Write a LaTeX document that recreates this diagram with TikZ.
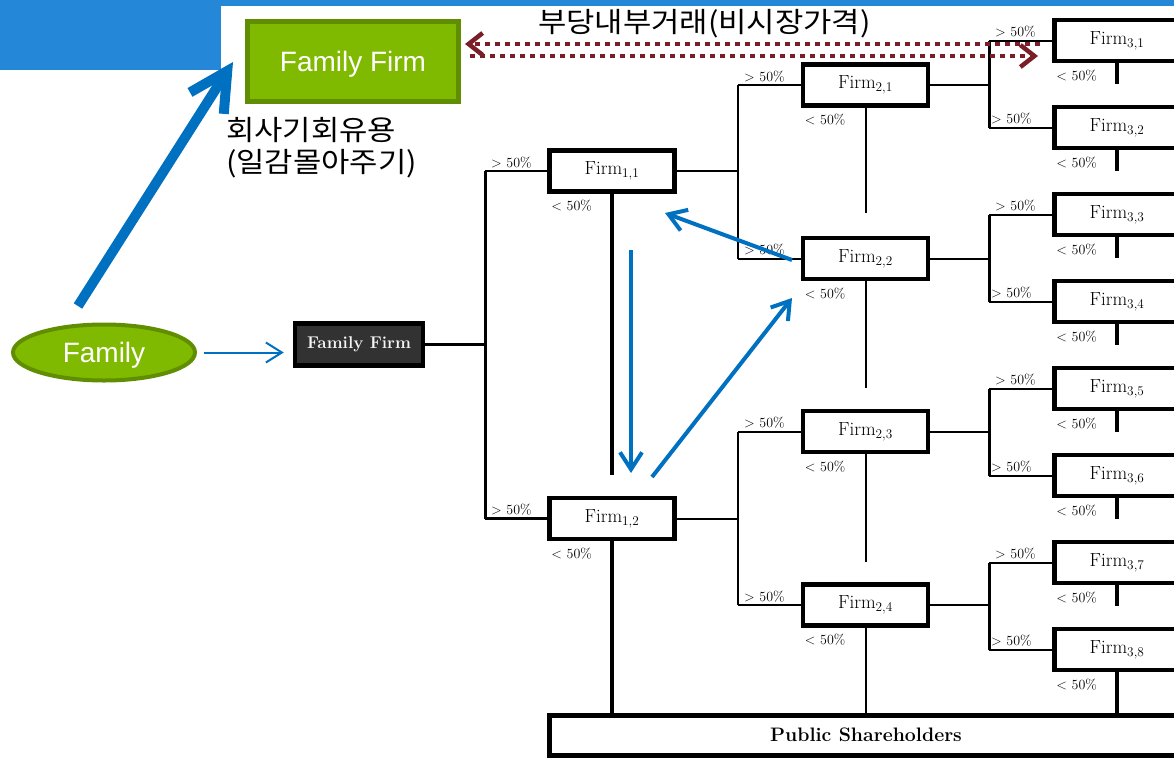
\documentclass[tikz,border=0pt]{standalone}
\usepackage{fontspec}
\newfontfamily\arialf{Liberation Sans}
\newfontfamily\kr[FakeStretch=1.1]{Noto Sans CJK KR}
\usetikzlibrary{arrows.meta,shapes.geometric,calc}
\definecolor{bandblue}{RGB}{36,135,216}
\definecolor{arrowblue}{RGB}{0,112,192}
\definecolor{ggreen}{RGB}{127,186,0}
\definecolor{ggreendark}{RGB}{96,142,0}
\definecolor{dred}{RGB}{122,30,40}
\definecolor{boxgray}{RGB}{50,50,50}
\begin{document}
\begin{tikzpicture}[x=1pt,y=-1pt,
  firm/.style={draw, line width=4.5pt, fill=white, minimum width=125pt, minimum height=41pt, inner sep=0pt, font=\fontsize{19}{22}\selectfont},
  pct/.style={inner sep=0pt, font=\fontsize{14}{14}\selectfont},
  greenbox/.style={draw=ggreendark, fill=ggreen, line width=5pt, minimum width=211pt, minimum height=80pt, inner sep=0pt, text depth=0pt, text=white, font=\arialf\fontsize{28}{32}\selectfont},
  famell/.style={ellipse, draw=ggreendark, fill=ggreen, line width=4pt, minimum width=182pt, minimum height=56pt, inner sep=0pt, text depth=0pt, text=white, font=\arialf\fontsize{28}{32}\selectfont},
  blackbox/.style={draw=black, fill=boxgray, line width=4.5pt, minimum width=128pt, minimum height=42pt, inner sep=0pt, text=gray!8, font=\bfseries\fontsize{17}{19}\selectfont},
  psbox/.style={draw, line width=5pt, fill=white, minimum width=634pt, minimum height=40pt, inner sep=0pt, font=\bfseries\fontsize{19.5}{22}\selectfont},
  krtext/.style={inner sep=0pt, font=\kr\fontsize{28}{32}\selectfont},
  thickarrow/.style={draw=arrowblue, line width=10pt, -{Straight Barb[length=38pt,width=40pt]}},
  medarrow/.style={draw=arrowblue, line width=4pt, -{Straight Barb[length=17pt,width=22pt]}},
  thinarrow/.style={draw=arrowblue, line width=2pt, -{Straight Barb[length=16pt,width=20pt]}},
  dotarrow/.style={draw=dred, line width=4.5pt, dash pattern=on 5pt off 5pt, -{Straight Barb[length=14pt,width=22pt]}},
  lv1/.style={line width=2.5pt},
  lv2/.style={line width=2pt},
]
\useasboundingbox (0,0) rectangle (1174,758);
\clip (0,0) rectangle (1174,758);

% background band
\fill[bandblue] (0,0) rectangle (1174,6);
\fill[bandblue] (0,0) rectangle (221,70);

% coordinates for junctions
\coordinate (j0) at (485,344.5);
\coordinate (j1) at (738,0);
\coordinate (j2) at (989,0);

% nodes
\node[greenbox] (gf) at (353,61.5) {Family Firm};
\node[famell] (fam) at (104,352.5) {Family};
\node[blackbox] (bf) at (359,344.5) {Family Firm};

\node[firm] (f11) at (612,171) {Firm\textsubscript{1,1}};
\node[firm] (f12) at (612,518.5) {Firm\textsubscript{1,2}};

\node[firm] (f21) at (865.5,85) {Firm\textsubscript{2,1}};
\node[firm] (f22) at (865.5,258.5) {Firm\textsubscript{2,2}};
\node[firm] (f23) at (865.5,431.5) {Firm\textsubscript{2,3}};
\node[firm] (f24) at (865.5,605) {Firm\textsubscript{2,4}};

\foreach \k in {1,...,8}{
  \node[firm] (f3\k) at (1117,{40.5+87*(\k-1)}) {Firm\textsubscript{3,\k}};
}

\node[psbox] (ps) at (866,735) {Public Shareholders};

% tree connectors: root
\draw[lv1] (bf.east) -- (j0);
\draw[line width=3pt] (f11.west -| j0) -- (f12.west -| j0);
\draw[lv1] (f11.west) -- (f11.west -| j0);
\draw[lv1] (f12.west) -- (f12.west -| j0);

% level 1 -> level 2
\foreach \p/\a/\b in {11/21/22, 12/23/24}{
  \draw[lv2] (f\p.east) -- (f\p.east -| j1);
  \draw[lv2] (f\a.west -| j1) -- (f\b.west -| j1);
  \draw[lv2] (f\a.west) -- (f\a.west -| j1);
  \draw[lv2] (f\b.west) -- (f\b.west -| j1);
}

% level 2 -> level 3
\foreach \p/\a/\b in {21/31/32, 22/33/34, 23/35/36, 24/37/38}{
  \draw[lv2] (f\p.east) -- (f\p.east -| j2);
  \draw[line width=3pt] (f\a.west -| j2) -- (f\b.west -| j2);
  \draw[lv2] (f\a.west) -- (f\a.west -| j2);
  \draw[lv2] (f\b.west) -- (f\b.west -| j2);
}

% downward (<50%) lines
\coordinate (e11) at (612,475);
\draw[line width=3.5pt] (f11.south) -- (e11);
\draw[line width=3.5pt] (f12.south) -- (f12.south |- ps.north);
\coordinate (e21) at (865.5,213);
\coordinate (e22) at (865.5,388);
\coordinate (e23) at (865.5,562);
\draw[lv2] (f21.south) -- (e21);
\draw[lv2] (f22.south) -- (e22);
\draw[lv2] (f23.south) -- (e23);
\draw[lv2] (f24.south) -- (f24.south |- ps.north);
\foreach \k in {1,...,7}{
  \coordinate (s\k) at ($(f3\k.south)+(0,21)$);
  \draw[line width=4pt] (f3\k.south) -- (s\k);
}
\draw[line width=4pt] (f38.south) -- (f38.south |- ps.north);

% redraw ps border on top
\node[psbox] at (ps) {Public Shareholders};

% > 50% labels
\foreach \n/\j in {11/j0, 12/j0, 21/j1, 22/j1, 23/j1, 24/j1}{
  \node[pct, anchor=base west] at ($(f\n.west -| \j)+(6,-4)$) {> 50\%};
}
\foreach \n in {31,33,35,37}{
  \node[pct, anchor=base west] at ($(f\n.west -| j2)+(6,-4)$) {> 50\%};
}
\foreach \n in {32,34,36,38}{
  \node[pct, anchor=base west] at ($(f\n.west -| j2)+(2,-4)$) {> 50\%};
}
% < 50% labels
\foreach \n in {11,12,21,22,23,24,31,32,33,34,35,36,37,38}{
  \node[pct, anchor=base west] at ($(f\n.south west)+(4,17)$) {< 50\%};
}

% Korean labels
\node[krtext, anchor=north west, align=left] (lblA) at (226,117) {회사기회유용\\(일감몰아주기)};
\node[krtext, anchor=west] (lblB) at (538,24) {부당내부거래(비시장가격)};

% dotted arrows
\coordinate (d1) at (1040,44);
\coordinate (d2) at (465,44);
\coordinate (d3) at (470,56);
\coordinate (d4) at (1038,56);
\draw[dotarrow] (d1) -- (d2);
\draw[dotarrow] (d3) -- (d4);

% blue arrows
\coordinate (t0) at (78,306);
\coordinate (t1) at (233,62);
\draw[thickarrow] (t0) -- (t1);
\draw[thinarrow, shorten <=7pt, shorten >=9pt] (fam.east) -- (fam.east -| bf.west);

\coordinate (a1s) at (792,260);
\coordinate (a1e) at (665,213);
\coordinate (a2s) at (631,250);
\coordinate (a2e) at (631,473);
\coordinate (a3s) at (652,477);
\coordinate (a3e) at (792,298);
\draw[medarrow] (a1s) -- (a1e);
\draw[medarrow] (a2s) -- (a2e);
\draw[medarrow] (a3s) -- (a3e);
\end{tikzpicture}
\end{document}
